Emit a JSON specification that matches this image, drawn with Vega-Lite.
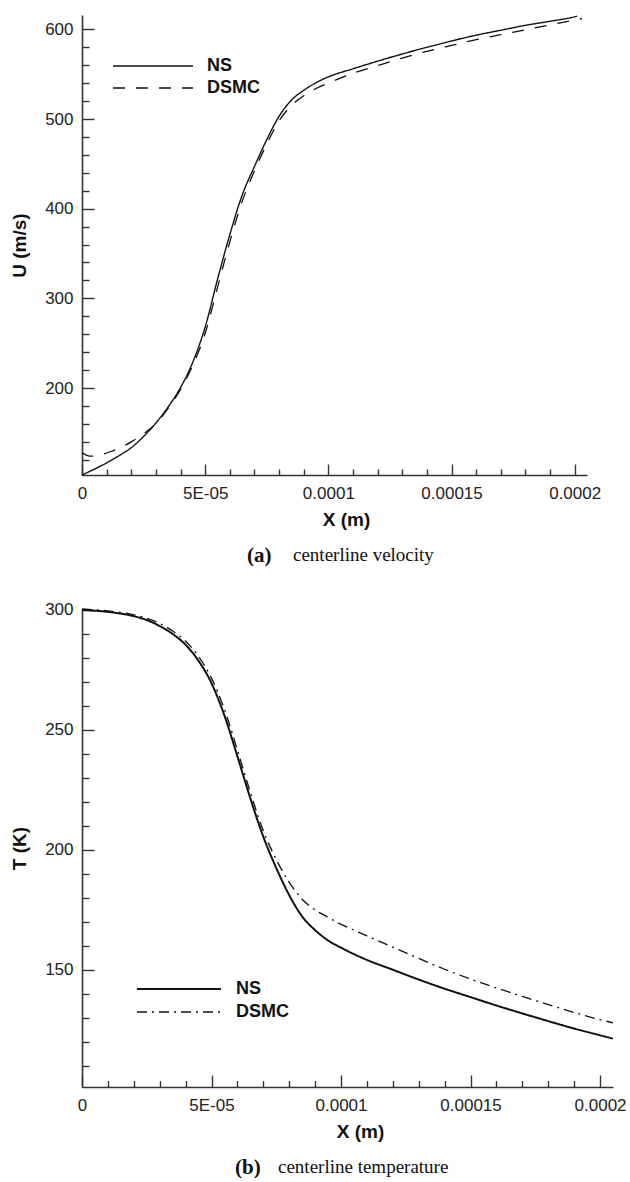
{
  "$schema": "https://vega.github.io/schema/vega-lite/v6.json",
  "background": "white",
  "padding": {"top": 13, "left": 10, "right": 10, "bottom": 4},
  "config": {
    "view": {"stroke": null},
    "font": "Liberation Sans",
    "axis": {
      "grid": false,
      "domainColor": "#333333",
      "domainWidth": 1.6,
      "tickColor": "#333333",
      "tickWidth": 1.4,
      "labelColor": "#222222",
      "labelFont": "Liberation Sans",
      "labelFontSize": 17,
      "labelFlush": false,
      "labelOverlap": false,
      "titleFont": "Liberation Sans",
      "titleFontSize": 19,
      "titleFontWeight": "bold",
      "titleColor": "#111111"
    },
    "concat": {"spacing": 34}
  },
  "resolve": {
    "scale": {"strokeDash": "independent", "strokeWidth": "independent"},
    "legend": {"strokeDash": "independent", "strokeWidth": "independent"}
  },
  "vconcat": [
    {
      "title": {"text": "(a)", "orient": "bottom", "anchor": "start", "frame": "group", "font": "Liberation Serif", "fontSize": 21, "fontWeight": "bold", "color": "#111111", "dx": 165, "offset": -20},
      "vconcat": [
        {
          "width": 505,
          "height": 460,
          "title": {"text": "centerline velocity", "orient": "bottom", "anchor": "start", "frame": "group", "font": "Liberation Serif", "fontSize": 19, "fontWeight": "normal", "color": "#111111", "dx": 211, "offset": 16},
          "data": {"values": [
            {"X": 0, "U": 103, "series": "NS"},
            {"X": 0.000005, "U": 109.5, "series": "NS"},
            {"X": 0.00001, "U": 116.5, "series": "NS"},
            {"X": 0.000015, "U": 124.5, "series": "NS"},
            {"X": 0.00002, "U": 133.5, "series": "NS"},
            {"X": 0.000025, "U": 146, "series": "NS"},
            {"X": 0.00003, "U": 161, "series": "NS"},
            {"X": 0.000035, "U": 179, "series": "NS"},
            {"X": 0.00004, "U": 200.5, "series": "NS"},
            {"X": 0.000045, "U": 229, "series": "NS"},
            {"X": 0.00005, "U": 268, "series": "NS"},
            {"X": 0.000055, "U": 321, "series": "NS"},
            {"X": 0.00006, "U": 371, "series": "NS"},
            {"X": 0.000065, "U": 415, "series": "NS"},
            {"X": 0.00007, "U": 447, "series": "NS"},
            {"X": 0.000075, "U": 477, "series": "NS"},
            {"X": 0.00008, "U": 503, "series": "NS"},
            {"X": 0.000085, "U": 521, "series": "NS"},
            {"X": 0.00009, "U": 532, "series": "NS"},
            {"X": 0.000095, "U": 540.5, "series": "NS"},
            {"X": 0.0001, "U": 547, "series": "NS"},
            {"X": 0.00011, "U": 556, "series": "NS"},
            {"X": 0.00012, "U": 564.5, "series": "NS"},
            {"X": 0.00013, "U": 572.5, "series": "NS"},
            {"X": 0.00014, "U": 580, "series": "NS"},
            {"X": 0.00015, "U": 587, "series": "NS"},
            {"X": 0.00016, "U": 593.5, "series": "NS"},
            {"X": 0.00017, "U": 599, "series": "NS"},
            {"X": 0.00018, "U": 604.5, "series": "NS"},
            {"X": 0.00019, "U": 609, "series": "NS"},
            {"X": 0.0002, "U": 614, "series": "NS"},
            {"X": 0.000201, "U": 614.7, "series": "NS"},
            {"X": 0, "U": 128, "series": "DSMC"},
            {"X": 0.000002, "U": 125, "series": "DSMC"},
            {"X": 0.000004, "U": 124, "series": "DSMC"},
            {"X": 0.000008, "U": 126, "series": "DSMC"},
            {"X": 0.000012, "U": 129.5, "series": "DSMC"},
            {"X": 0.000016, "U": 134, "series": "DSMC"},
            {"X": 0.00002, "U": 140, "series": "DSMC"},
            {"X": 0.000025, "U": 149, "series": "DSMC"},
            {"X": 0.00003, "U": 160.5, "series": "DSMC"},
            {"X": 0.000035, "U": 177.5, "series": "DSMC"},
            {"X": 0.00004, "U": 198.5, "series": "DSMC"},
            {"X": 0.000045, "U": 225.5, "series": "DSMC"},
            {"X": 0.00005, "U": 261, "series": "DSMC"},
            {"X": 0.000055, "U": 312, "series": "DSMC"},
            {"X": 0.00006, "U": 363, "series": "DSMC"},
            {"X": 0.000065, "U": 408, "series": "DSMC"},
            {"X": 0.00007, "U": 442, "series": "DSMC"},
            {"X": 0.000075, "U": 472, "series": "DSMC"},
            {"X": 0.00008, "U": 498, "series": "DSMC"},
            {"X": 0.000085, "U": 515, "series": "DSMC"},
            {"X": 0.00009, "U": 526, "series": "DSMC"},
            {"X": 0.000095, "U": 534, "series": "DSMC"},
            {"X": 0.0001, "U": 540, "series": "DSMC"},
            {"X": 0.00011, "U": 551, "series": "DSMC"},
            {"X": 0.00012, "U": 559.5, "series": "DSMC"},
            {"X": 0.00013, "U": 568, "series": "DSMC"},
            {"X": 0.00014, "U": 575.5, "series": "DSMC"},
            {"X": 0.00015, "U": 582, "series": "DSMC"},
            {"X": 0.00016, "U": 588.5, "series": "DSMC"},
            {"X": 0.00017, "U": 594, "series": "DSMC"},
            {"X": 0.00018, "U": 599.5, "series": "DSMC"},
            {"X": 0.00019, "U": 605, "series": "DSMC"},
            {"X": 0.0002, "U": 610.3, "series": "DSMC"},
            {"X": 0.000203, "U": 612, "series": "DSMC"}
          ]},
          "layer": [
            {
              "mark": {"type": "line", "color": "#111111", "strokeCap": "butt", "interpolate": "monotone"},
              "encoding": {
                "x": {"field": "X", "type": "quantitative", "scale": {"domain": [0, 0.000205], "nice": false, "zero": false},
                  "axis": {"orient": "bottom", "values": [0, 0.00005, 0.0001, 0.00015, 0.0002], "ticks": false, "labelPadding": 10.5,
                    "labelExpr": "datum.value == 0 ? '0' : (datum.value < 0.00007 ? '5E-05' : format(datum.value, '~g'))",
                    "title": "X (m)", "titlePadding": 9, "titleX": 264}},
                "y": {"field": "U", "type": "quantitative", "scale": {"domain": [103, 616], "nice": false, "zero": false},
                  "axis": {"orient": "left", "values": [200, 300, 400, 500, 600], "ticks": false, "labelPadding": 9, "title": "U (m/s)", "titlePadding": 15}},
                "strokeDash": {"field": "series", "type": "nominal",
                  "scale": {"domain": ["NS", "DSMC"], "range": [[1, 0], [12, 11]]},
                  "legend": {"orient": "none", "legendX": 30, "legendY": 41, "title": null, "padding": 0,
                    "symbolType": "stroke", "symbolSize": 6400, "symbolStrokeWidth": 1.3, "symbolStrokeColor": "#111111",
                    "clipHeight": 20, "rowPadding": 2, "labelOffset": 13, "labelFont": "Liberation Sans", "labelFontSize": 18,
                    "labelFontWeight": "bold", "labelColor": "#111111"}},
                "strokeWidth": {"field": "series", "type": "nominal", "scale": {"domain": ["NS", "DSMC"], "range": [1.4, 1.3]}, "legend": null}
              }
            },
            {
              "mark": {"type": "point", "opacity": 0},
              "encoding": {
                "x": {"field": "X", "type": "quantitative", "scale": {"domain": [0, 0.000205], "nice": false, "zero": false},
                  "axis": {"orient": "bottom", "values": [0, 0.00005, 0.0001, 0.00015, 0.0002], "labels": false, "domain": false, "title": null, "tickSize": -11}},
                "y": {"field": "U", "type": "quantitative", "scale": {"domain": [103, 616], "nice": false, "zero": false},
                  "axis": {"orient": "left", "values": [200, 300, 400, 500, 600], "labels": false, "domain": false, "title": null, "tickSize": -12}}
              }
            },
            {
              "mark": {"type": "point", "opacity": 0},
              "encoding": {
                "x": {"field": "X", "type": "quantitative", "scale": {"domain": [0, 0.000205], "nice": false, "zero": false},
                  "axis": {"orient": "bottom", "values": [0.00001, 0.00002, 0.00003, 0.00004, 0.00006, 0.00007, 0.00008, 0.00009, 0.00011, 0.00012, 0.00013, 0.00014, 0.00016, 0.00017, 0.00018, 0.00019], "labels": false, "domain": false, "title": null, "tickSize": -6}},
                "y": {"field": "U", "type": "quantitative", "scale": {"domain": [103, 616], "nice": false, "zero": false},
                  "axis": {"orient": "left", "values": [120, 140, 160, 180, 220, 240, 260, 280, 320, 340, 360, 380, 420, 440, 460, 480, 520, 540, 560, 580], "labels": false, "domain": false, "title": null, "tickSize": -7}}
              }
            }
          ],
          "resolve": {"axis": {"x": "independent", "y": "independent"}}
        }
      ]
    },
    {
      "title": {"text": "(b)", "orient": "bottom", "anchor": "start", "frame": "group", "font": "Liberation Serif", "fontSize": 21, "fontWeight": "bold", "color": "#111111", "dx": 153, "offset": -20},
      "vconcat": [
        {
          "width": 531,
          "height": 478,
          "title": {"text": "centerline temperature", "orient": "bottom", "anchor": "start", "frame": "group", "font": "Liberation Serif", "fontSize": 19, "fontWeight": "normal", "color": "#111111", "dx": 196, "offset": 16},
          "data": {"values": [
            {"X": 0, "T": 300, "series": "NS"},
            {"X": 0.00001, "T": 299.2, "series": "NS"},
            {"X": 0.00002, "T": 297.4, "series": "NS"},
            {"X": 0.000025, "T": 295.8, "series": "NS"},
            {"X": 0.00003, "T": 293.3, "series": "NS"},
            {"X": 0.000035, "T": 290, "series": "NS"},
            {"X": 0.00004, "T": 285.5, "series": "NS"},
            {"X": 0.000045, "T": 278.8, "series": "NS"},
            {"X": 0.00005, "T": 269.5, "series": "NS"},
            {"X": 0.000055, "T": 256, "series": "NS"},
            {"X": 0.00006, "T": 239, "series": "NS"},
            {"X": 0.000065, "T": 221.5, "series": "NS"},
            {"X": 0.00007, "T": 205.5, "series": "NS"},
            {"X": 0.000075, "T": 192.5, "series": "NS"},
            {"X": 0.00008, "T": 181.2, "series": "NS"},
            {"X": 0.000085, "T": 172.3, "series": "NS"},
            {"X": 0.00009, "T": 166.6, "series": "NS"},
            {"X": 0.000095, "T": 162.3, "series": "NS"},
            {"X": 0.0001, "T": 159.3, "series": "NS"},
            {"X": 0.00011, "T": 154.2, "series": "NS"},
            {"X": 0.00012, "T": 150.1, "series": "NS"},
            {"X": 0.00013, "T": 146, "series": "NS"},
            {"X": 0.00014, "T": 142.2, "series": "NS"},
            {"X": 0.00015, "T": 138.7, "series": "NS"},
            {"X": 0.00016, "T": 135.2, "series": "NS"},
            {"X": 0.00017, "T": 131.9, "series": "NS"},
            {"X": 0.00018, "T": 128.7, "series": "NS"},
            {"X": 0.00019, "T": 125.6, "series": "NS"},
            {"X": 0.0002, "T": 122.8, "series": "NS"},
            {"X": 0.000205, "T": 121.4, "series": "NS"},
            {"X": 0, "T": 300.4, "series": "DSMC"},
            {"X": 0.00001, "T": 299.6, "series": "DSMC"},
            {"X": 0.00002, "T": 298, "series": "DSMC"},
            {"X": 0.000025, "T": 296.6, "series": "DSMC"},
            {"X": 0.00003, "T": 294.4, "series": "DSMC"},
            {"X": 0.000035, "T": 291.2, "series": "DSMC"},
            {"X": 0.00004, "T": 287, "series": "DSMC"},
            {"X": 0.000045, "T": 280.6, "series": "DSMC"},
            {"X": 0.00005, "T": 271.6, "series": "DSMC"},
            {"X": 0.000055, "T": 258.6, "series": "DSMC"},
            {"X": 0.00006, "T": 241.6, "series": "DSMC"},
            {"X": 0.000065, "T": 224, "series": "DSMC"},
            {"X": 0.00007, "T": 208, "series": "DSMC"},
            {"X": 0.000075, "T": 196, "series": "DSMC"},
            {"X": 0.00008, "T": 186.5, "series": "DSMC"},
            {"X": 0.000085, "T": 179.5, "series": "DSMC"},
            {"X": 0.00009, "T": 175, "series": "DSMC"},
            {"X": 0.000095, "T": 172, "series": "DSMC"},
            {"X": 0.0001, "T": 169, "series": "DSMC"},
            {"X": 0.000105, "T": 166.6, "series": "DSMC"},
            {"X": 0.00011, "T": 164.2, "series": "DSMC"},
            {"X": 0.00012, "T": 159.5, "series": "DSMC"},
            {"X": 0.00013, "T": 154.8, "series": "DSMC"},
            {"X": 0.00014, "T": 150.3, "series": "DSMC"},
            {"X": 0.00015, "T": 146.2, "series": "DSMC"},
            {"X": 0.00016, "T": 142.5, "series": "DSMC"},
            {"X": 0.00017, "T": 139, "series": "DSMC"},
            {"X": 0.00018, "T": 135.6, "series": "DSMC"},
            {"X": 0.00019, "T": 132.3, "series": "DSMC"},
            {"X": 0.0002, "T": 129.3, "series": "DSMC"},
            {"X": 0.000205, "T": 128, "series": "DSMC"}
          ]},
          "layer": [
            {
              "mark": {"type": "line", "color": "#111111", "strokeCap": "butt", "interpolate": "monotone"},
              "encoding": {
                "x": {"field": "X", "type": "quantitative", "scale": {"domain": [0, 0.000205], "nice": false, "zero": false},
                  "axis": {"orient": "bottom", "values": [0, 0.00005, 0.0001, 0.00015, 0.0002], "ticks": false, "labelPadding": 10.5,
                    "labelExpr": "datum.value == 0 ? '0' : (datum.value < 0.00007 ? '5E-05' : format(datum.value, '~g'))",
                    "title": "X (m)", "titlePadding": 9, "titleX": 278}},
                "y": {"field": "T", "type": "quantitative", "scale": {"domain": [101.25, 300.4], "nice": false, "zero": false},
                  "axis": {"orient": "left", "values": [150, 200, 250, 300], "ticks": false, "labelPadding": 9, "title": "T (K)", "titlePadding": 15}},
                "strokeDash": {"field": "series", "type": "nominal",
                  "scale": {"domain": ["NS", "DSMC"], "range": [[1, 0], [10, 5, 2, 5]]},
                  "legend": {"orient": "none", "legendX": 54, "legendY": 370, "title": null, "padding": 0,
                    "symbolType": "stroke", "symbolSize": 7056, "symbolStrokeWidth": 1.3, "symbolStrokeColor": "#111111",
                    "clipHeight": 20, "rowPadding": 3, "labelOffset": 14, "labelFont": "Liberation Sans", "labelFontSize": 18,
                    "labelFontWeight": "bold", "labelColor": "#111111"}},
                "strokeWidth": {"field": "series", "type": "nominal", "scale": {"domain": ["NS", "DSMC"], "range": [2, 1.3]}, "legend": null}
              }
            },
            {
              "mark": {"type": "point", "opacity": 0},
              "encoding": {
                "x": {"field": "X", "type": "quantitative", "scale": {"domain": [0, 0.000205], "nice": false, "zero": false},
                  "axis": {"orient": "bottom", "values": [0, 0.00005, 0.0001, 0.00015, 0.0002], "labels": false, "domain": false, "title": null, "tickSize": -12}},
                "y": {"field": "T", "type": "quantitative", "scale": {"domain": [101.25, 300.4], "nice": false, "zero": false},
                  "axis": {"orient": "left", "values": [150, 200, 250, 300], "labels": false, "domain": false, "title": null, "tickSize": -12}}
              }
            },
            {
              "mark": {"type": "point", "opacity": 0},
              "encoding": {
                "x": {"field": "X", "type": "quantitative", "scale": {"domain": [0, 0.000205], "nice": false, "zero": false},
                  "axis": {"orient": "bottom", "values": [0.00001, 0.00002, 0.00003, 0.00004, 0.00006, 0.00007, 0.00008, 0.00009, 0.00011, 0.00012, 0.00013, 0.00014, 0.00016, 0.00017, 0.00018, 0.00019], "labels": false, "domain": false, "title": null, "tickSize": -6.5}},
                "y": {"field": "T", "type": "quantitative", "scale": {"domain": [101.25, 300.4], "nice": false, "zero": false},
                  "axis": {"orient": "left", "values": [110, 120, 130, 140, 160, 170, 180, 190, 210, 220, 230, 240, 260, 270, 280, 290], "labels": false, "domain": false, "title": null, "tickSize": -7}}
              }
            }
          ],
          "resolve": {"axis": {"x": "independent", "y": "independent"}}
        }
      ]
    }
  ]
}
